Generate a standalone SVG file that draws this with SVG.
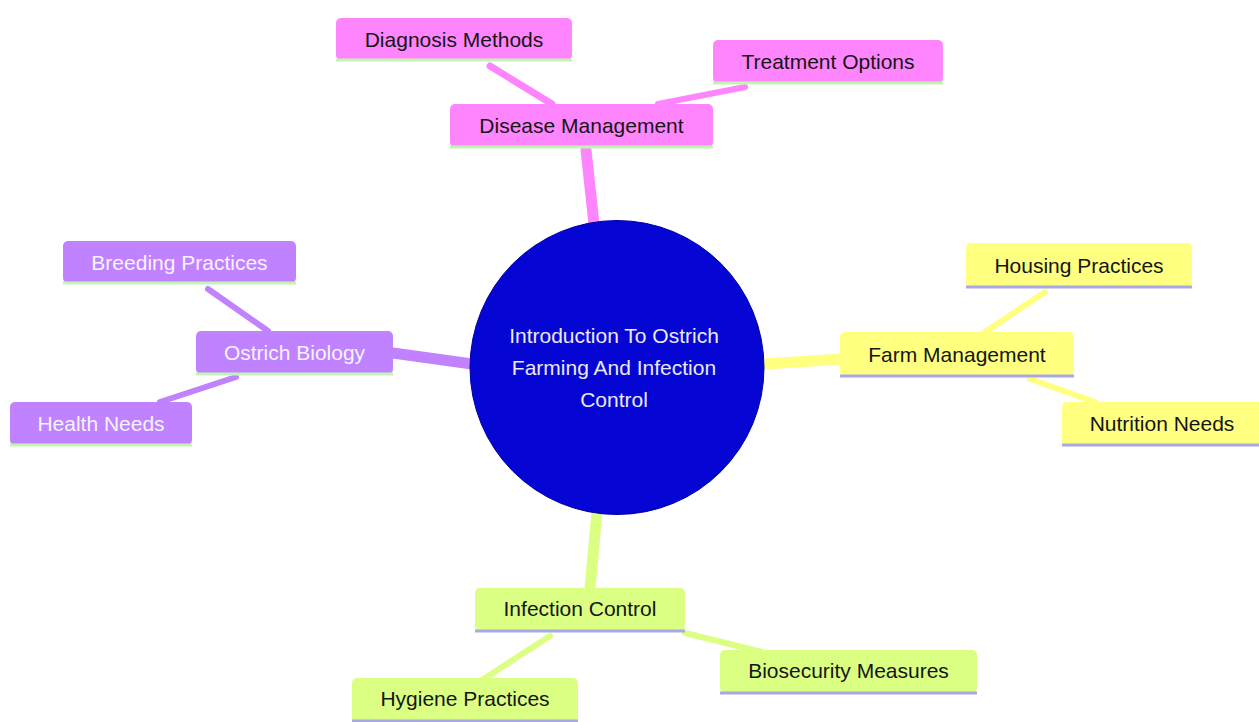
<svg xmlns="http://www.w3.org/2000/svg" width="1259" height="722" viewBox="0 0 1259 722">
<style>
text{font-family:"Liberation Sans",Arial,sans-serif;font-size:21px;text-anchor:middle;dominant-baseline:central}
.pk rect{fill:#ff85ff}
.pu rect{fill:#c182ff}
.ye rect{fill:#ffff80}
.gr rect{fill:#dbff82}
.pk text,.ye text,.gr text{fill:#151515}
.pu text{fill:#f4f4ff}
.pk line,.pu line{stroke:#c4f4b4;stroke-width:3}
.ye line,.gr line{stroke:#a8a8e4;stroke-width:3}
.c line{stroke-linecap:round}
</style>
<rect width="1259" height="722" fill="#ffffff"/>
<g id="connectors" class="c">
<line x1="586" y1="150" x2="594" y2="224" stroke="#ff85ff" stroke-width="11"/>
<line x1="490" y1="66" x2="552" y2="104" stroke="#ff85ff" stroke-width="7"/>
<line x1="745" y1="87" x2="658" y2="104" stroke="#ff85ff" stroke-width="6"/>
<line x1="393" y1="353" x2="472" y2="364" stroke="#c182ff" stroke-width="11"/>
<line x1="208" y1="289" x2="268" y2="331" stroke="#c182ff" stroke-width="6"/>
<line x1="160" y1="402" x2="236" y2="377" stroke="#c182ff" stroke-width="6"/>
<line x1="764" y1="364" x2="842" y2="359" stroke="#ffff80" stroke-width="11"/>
<line x1="1045" y1="292" x2="985" y2="332" stroke="#ffff80" stroke-width="6"/>
<line x1="1030" y1="379" x2="1095" y2="402" stroke="#ffff80" stroke-width="6"/>
<line x1="597" y1="512" x2="590" y2="588" stroke="#dbff82" stroke-width="11"/>
<line x1="550" y1="636" x2="482" y2="680" stroke="#dbff82" stroke-width="6"/>
<line x1="685" y1="633" x2="762" y2="652" stroke="#dbff82" stroke-width="6"/>
</g>
<g id="root">
<circle cx="617" cy="367.5" r="147" fill="#0505d4" stroke="#0000a8" stroke-width="1"/>
<text x="614" y="335" fill="#eaeaf4">Introduction To Ostrich</text>
<text x="614" y="367" fill="#eaeaf4">Farming And Infection</text>
<text x="614" y="399" fill="#eaeaf4">Control</text>
</g>
<g id="disease-management" class="pk"><rect x="450" y="104" width="263" height="43" rx="5"/><line x1="450" y1="147" x2="713" y2="147"/><text x="581.5" y="125">Disease Management</text></g>
<g id="diagnosis-methods" class="pk"><rect x="336" y="18" width="236" height="42" rx="5"/><line x1="336" y1="60" x2="572" y2="60"/><text x="454" y="39">Diagnosis Methods</text></g>
<g id="treatment-options" class="pk"><rect x="713" y="40" width="230" height="43" rx="5"/><line x1="713" y1="83" x2="943" y2="83"/><text x="828" y="61.5">Treatment Options</text></g>
<g id="ostrich-biology" class="pu"><rect x="196" y="331" width="197" height="43" rx="5"/><line x1="196" y1="374" x2="393" y2="374"/><text x="294.5" y="352.5">Ostrich Biology</text></g>
<g id="breeding-practices" class="pu"><rect x="63" y="241" width="233" height="42" rx="5"/><line x1="63" y1="283" x2="296" y2="283"/><text x="179.5" y="262">Breeding Practices</text></g>
<g id="health-needs" class="pu"><rect x="10" y="402" width="182" height="43" rx="5"/><line x1="10" y1="445" x2="192" y2="445"/><text x="101" y="423.5">Health Needs</text></g>
<g id="farm-management" class="ye"><rect x="840" y="332" width="234" height="44" rx="5"/><line x1="840" y1="376" x2="1074" y2="376"/><text x="957" y="354">Farm Management</text></g>
<g id="housing-practices" class="ye"><rect x="966" y="243" width="226" height="44" rx="5"/><line x1="966" y1="287" x2="1192" y2="287"/><text x="1079" y="265">Housing Practices</text></g>
<g id="nutrition-needs" class="ye"><rect x="1062" y="402" width="202" height="43" rx="5"/><line x1="1062" y1="445" x2="1259" y2="445"/><text x="1162" y="423.5">Nutrition Needs</text></g>
<g id="infection-control" class="gr"><rect x="475" y="588" width="210" height="43" rx="5"/><line x1="475" y1="631" x2="685" y2="631"/><text x="580" y="608">Infection Control</text></g>
<g id="biosecurity-measures" class="gr"><rect x="720" y="650" width="257" height="43" rx="5"/><line x1="720" y1="693" x2="977" y2="693"/><text x="848.5" y="670">Biosecurity Measures</text></g>
<g id="hygiene-practices" class="gr"><rect x="352" y="678" width="226" height="44" rx="5"/><line x1="352" y1="721" x2="578" y2="721"/><text x="465" y="698">Hygiene Practices</text></g>
</svg>
